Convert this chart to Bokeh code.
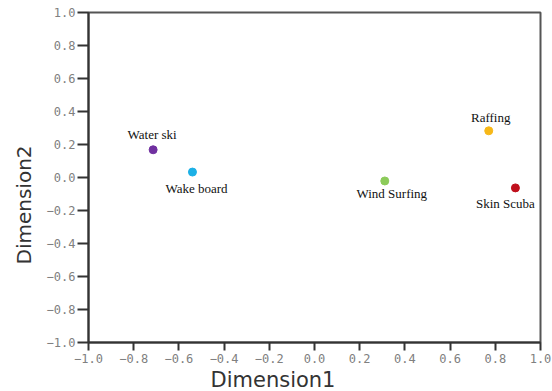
from bokeh.plotting import figure
from bokeh.models import ColumnDataSource, FixedTicker, Range1d, Title
from bokeh.core.properties import value
from bokeh.embed import file_html
from bokeh.resources import INLINE

# Data
sports = ["Water ski", "Wake board", "Wind Surfing", "Raffing", "Skin Scuba"]
dim1 = [-0.714, -0.54, 0.311, 0.771, 0.889]
dim2 = [0.168, 0.033, -0.021, 0.283, -0.063]
colors = ["#7030A0", "#1CB0E6", "#8CCB5A", "#F7B818", "#C0101C"]
ticks = [-1.0, -0.8, -0.6, -0.4, -0.2, 0.0, 0.2, 0.4, 0.6, 0.8, 1.0]
tick_labels = ["\u22121.0", "\u22120.8", "\u22120.6", "\u22120.4", "\u22120.2",
               "0.0", "0.2", "0.4", "0.6", "0.8", "1.0"]
x_title = "Dimension1"
y_title = "Dimension2"

# label placement (pixel offsets relative to each point)
label_dx = [-1, 4, 7, 2, -10]
label_dy = [-15, 16, 13, -13, 16]

src = ColumnDataSource(dict(x=dim1, y=dim2, name=sports, color=colors,
                            dx=label_dx, dy=label_dy))

p = figure(width=552, height=391, output_backend="svg", toolbar_location=None,
           x_range=Range1d(-1, 1), y_range=Range1d(-1, 1),
           min_border_left=88, min_border_right=12, min_border_top=12, min_border_bottom=48)
p.xgrid.visible = False
p.ygrid.visible = False
p.outline_line_color = "#555555"
p.outline_line_width = 2
p.background_fill_color = "white"
p.border_fill_color = "white"

overrides = {t: l for t, l in zip(ticks, tick_labels)}
for ax in (p.xaxis[0], p.yaxis[0]):
    ax.ticker = FixedTicker(ticks=ticks)
    ax.major_label_overrides = overrides
    ax.minor_tick_line_color = None
    ax.axis_line_color = "#333333"
    ax.axis_line_width = 2
    ax.major_tick_line_color = "#333333"
    ax.major_tick_line_width = 2
    ax.major_tick_in = 0
    ax.major_label_text_font = "DejaVu Sans Mono"
    ax.major_label_text_font_size = "12px"
    ax.major_label_text_color = "#808080"

p.xaxis.major_tick_out = 8
p.yaxis.major_tick_out = 11
p.xaxis.major_label_standoff = 3
p.yaxis.major_label_standoff = 2

tx = Title(text=x_title, align="left", offset=122, standoff=0,
           text_font="DejaVu Sans", text_font_size="21px", text_font_style="normal",
           text_color="#333333")
ty = Title(text=y_title, align="left", offset=78, standoff=16,
           text_font="DejaVu Sans", text_font_size="20px", text_font_style="normal",
           text_color="#333333")
p.add_layout(tx, "below")
p.add_layout(ty, "left")

p.scatter("x", "y", source=src, size=8, fill_color="color", line_color="color")
p.text("x", "y", text="name", source=src, x_offset="dx", y_offset="dy",
       text_align="center", text_baseline="middle",
       text_font=value("Liberation Serif"), text_font_size="13px",
       text_color="#111111")

open("out.html", "w").write(file_html(p, INLINE))
